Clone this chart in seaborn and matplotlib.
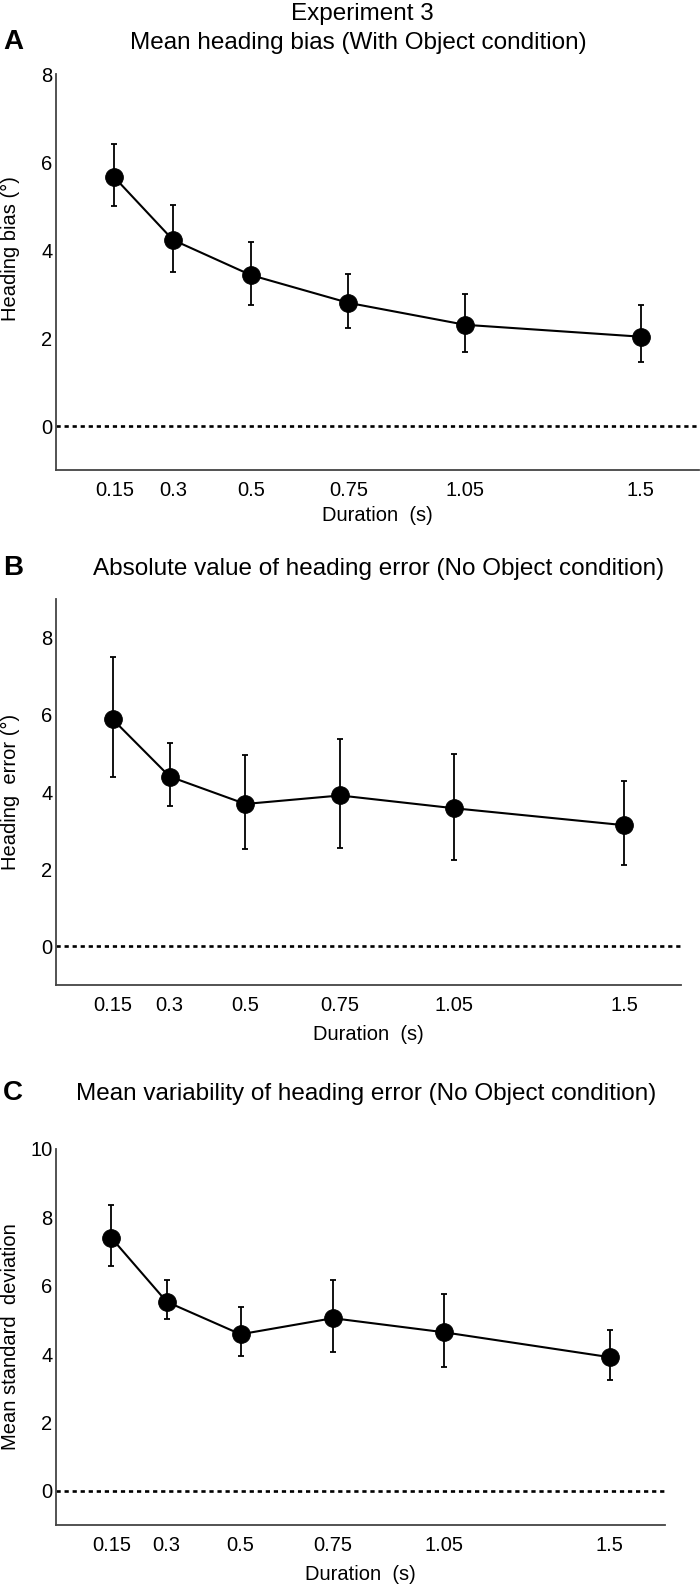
import matplotlib
matplotlib.use("Agg")
import matplotlib.pyplot as plt
import numpy as np
import pandas as pd
import seaborn as sns

DURATIONS = [0.15, 0.3, 0.5, 0.75, 1.05, 1.5]
TICK_LABELS = ["0.15", "0.3", "0.5", "0.75", "1.05", "1.5"]

# panel A: mean heading bias (With Object)
BIAS_MEAN = [5.65, 4.23, 3.43, 2.80, 2.30, 2.03]
BIAS_LOW = [5.00, 3.50, 2.76, 2.22, 1.69, 1.45]
BIAS_HIGH = [6.41, 5.03, 4.19, 3.46, 2.99, 2.74]

# panel B: absolute heading error (No Object)
ERR_MEAN = [5.88, 4.40, 3.69, 3.91, 3.58, 3.14]
ERR_LOW = [4.38, 3.65, 2.52, 2.56, 2.25, 2.12]
ERR_HIGH = [7.51, 5.26, 4.95, 5.38, 4.98, 4.29]

# panel C: mean variability (No Object)
SD_MEAN = [7.40, 5.53, 4.58, 5.05, 4.64, 3.91]
SD_LOW = [6.59, 5.02, 3.93, 4.06, 3.62, 3.25]
SD_HIGH = [8.37, 6.17, 5.37, 6.17, 5.77, 4.71]

FIG_W, FIG_H = 700, 1588
SPINE = "#444444"


def px_axes(fig, left, right, top, bottom):
    return fig.add_axes([left / FIG_W, 1 - bottom / FIG_H, (right - left) / FIG_W, (bottom - top) / FIG_H])


def draw_panel(ax, mean, low, high, ymax, yticks, ylabel, labelpad):
    frame = pd.DataFrame({"duration": DURATIONS, "value": mean})
    mean = np.asarray(mean)
    yerr = np.vstack([mean - np.asarray(low), np.asarray(high) - mean])
    ax.axhline(0, color="black", lw=1.9, ls=(0, (1.6, 1.45)), zorder=1)
    ax.errorbar(DURATIONS, mean, yerr=yerr, fmt="none", ecolor="black",
                elinewidth=1.3, capsize=2.2, capthick=1.3, zorder=2)
    sns.lineplot(data=frame, x="duration", y="value", color="black", lw=1.5,
                 marker="o", markersize=12.7, markeredgecolor="black",
                 markerfacecolor="black", ax=ax, zorder=3)
    ax.set_xlim(0, 1.65)
    ax.set_ylim(-1, ymax)
    ax.set_xticks(DURATIONS)
    ax.set_xticklabels(TICK_LABELS)
    ax.set_yticks(yticks)
    ax.set_xlabel("Duration  (s)", fontsize=14.5, labelpad=labelpad)
    ax.set_ylabel(ylabel, fontsize=14.5)
    ax.grid(False)
    for side in ["top", "right"]:
        ax.spines[side].set_visible(False)
    for side in ["left", "bottom"]:
        ax.spines[side].set_color(SPINE)
        ax.spines[side].set_linewidth(1.3)
    ax.tick_params(axis="x", direction="in", length=3.5, width=1.0, color=SPINE,
                   labelcolor="black", labelsize=14.5, pad=8)
    ax.tick_params(axis="y", direction="in", length=3.5, width=1.0, color=SPINE,
                   labelcolor="black", labelsize=14.5, pad=2.5)


sns.set_theme(style="white")
plt.rcParams["font.family"] = ["Liberation Sans", "DejaVu Sans"]
plt.rcParams["text.color"] = "black"
plt.rcParams["axes.labelcolor"] = "black"

fig = plt.figure(figsize=(FIG_W / 100, FIG_H / 100), dpi=100)

ax_a = px_axes(fig, 56, 699, 74, 470)
draw_panel(ax_a, BIAS_MEAN, BIAS_LOW, BIAS_HIGH, 8, [0, 2, 4, 6, 8], "Heading bias (°)", 4.5)
ax_a.yaxis.set_label_coords((20 - 56) / 643, 0.56)

ax_b = px_axes(fig, 56, 681, 599, 985)
draw_panel(ax_b, ERR_MEAN, ERR_LOW, ERR_HIGH, 9, [0, 2, 4, 6, 8], "Heading  error (°)", 7)
ax_b.yaxis.set_label_coords((20 - 56) / 625, 0.5)

ax_c = px_axes(fig, 56, 665, 1149, 1525)
draw_panel(ax_c, SD_MEAN, SD_LOW, SD_HIGH, 10, [0, 2, 4, 6, 8, 10], "Mean standard  deviation", 7)
ax_c.yaxis.set_label_coords((20 - 56) / 609, 0.5)

# titles and panel letters
fig.text(362 / FIG_W, 1 - 14 / FIG_H, "Experiment 3", ha="center", va="center", fontsize=17.5)
fig.text(358 / FIG_W, 1 - 43 / FIG_H, "Mean heading bias (With Object condition)",
         ha="center", va="center", fontsize=17.5)
fig.text(379 / FIG_W, 1 - 569 / FIG_H, "Absolute value of heading error (No Object condition)",
         ha="center", va="center", fontsize=17.5)
fig.text(366 / FIG_W, 1 - 1094 / FIG_H, "Mean variability of heading error (No Object condition)",
         ha="center", va="center", fontsize=17.5)
for letter, y in [("A", 42), ("B", 568), ("C", 1093)]:
    fig.text(3 / FIG_W, 1 - y / FIG_H, letter, ha="left", va="center",
             fontsize=20, fontweight="bold")

fig.savefig("out.png", dpi=100, facecolor="white")
